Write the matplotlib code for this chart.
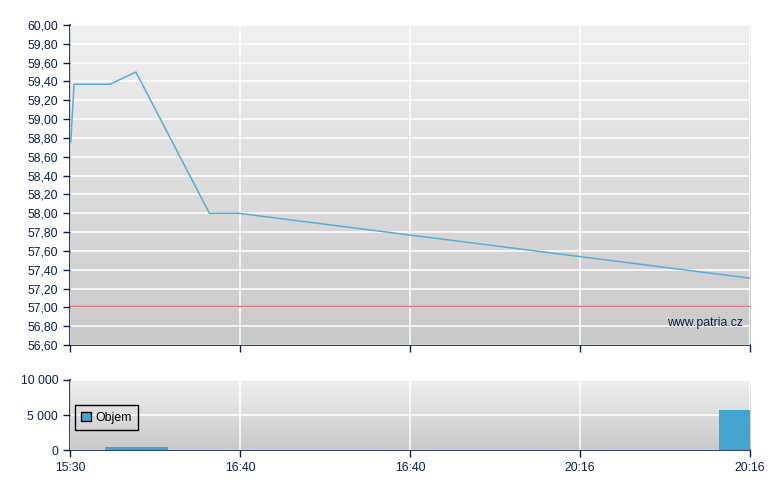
import numpy as np
import matplotlib.pyplot as plt
from matplotlib.colors import LinearSegmentedColormap

plt.rcParams['font.family'] = ['Liberation Sans', 'DejaVu Sans']
plt.rcParams['font.size'] = 8.8

# data
tick_labels = ['15:30', '16:40', '16:40', '20:16', '20:16']
price_x = [0.005, 0.024, 0.235, 0.388, 0.82, 0.99, 4.0]
price_y = [58.76, 59.37, 59.37, 59.50, 58.00, 58.00, 57.31]
prev_close = 57.01
vol_left = [0.206, 3.818]
vol_width = [0.37, 0.182]
vol_vals = [430, 5700]

navy = '#0a2050'
grad = LinearSegmentedColormap.from_list('g', ['#f0f0f0', '#c9c9c9'])

def bg(ax, y0, y1):
    g = np.linspace(0, 1, 256).reshape(-1, 1)
    ax.imshow(g, cmap=grad, extent=[0, 4, y0, y1], aspect='auto', zorder=0,
              origin='upper')

def style(ax):
    for s in ['top', 'right']:
        ax.spines[s].set_visible(False)
    for s in ['left', 'bottom']:
        ax.spines[s].set_color(navy)
        ax.spines[s].set_linewidth(1.2)
    ax.tick_params(colors=navy, labelcolor=navy, length=5, width=1, direction='out')
    ax.set_xlim(0, 4)
    ax.set_xticks(range(5))
    ax.grid(True, color='white', linewidth=1.1, zorder=1)
    ax.set_axisbelow(False)

fig = plt.figure(figsize=(7.8, 4.9), dpi=100)
ax1 = fig.add_axes([0.0897, 0.2959, 0.8718, 0.6531])
ax2 = fig.add_axes([0.0897, 0.0816, 0.8718, 0.1429])

bg(ax1, 56.6, 60.0)
style(ax1)
ax1.set_ylim(56.6, 60.0)
yt = np.arange(56.6, 60.001, 0.2)
ax1.set_yticks(yt)
ax1.set_yticklabels([('%.2f' % v).replace('.', ',') for v in yt])
ax1.set_xticklabels([])
ax1.axhline(prev_close, color='#e87070', linewidth=1, zorder=3)
ax1.plot(price_x, price_y, color='#5aaed6', linewidth=1.1, zorder=4)
ax1.text(0.99, 0.069, 'www.patria.cz', transform=ax1.transAxes, ha='right',
         va='center', color=navy, zorder=5)

bg(ax2, 0, 10000)
style(ax2)
ax2.set_ylim(0, 10000)
ax2.set_yticks([0, 5000, 10000])
ax2.set_yticklabels(['0', '5 000', '10 000'])
ax2.set_xticklabels(tick_labels)
ax2.bar(vol_left, vol_vals, width=vol_width, align='edge', color='#44a6d0',
        zorder=3, label='Objem')
leg = ax2.legend(loc='upper left', bbox_to_anchor=(0.007, 0.643), borderaxespad=0,
                 fancybox=False, facecolor='none', framealpha=1, edgecolor='black',
                 handlelength=0.75, handleheight=0.75,
                 borderpad=0.55, handletextpad=0.35)
leg.get_frame().set_linewidth(1)
for h in leg.legend_handles:
    h.set_edgecolor('black')
    h.set_linewidth(1)

fig.savefig('out.png', dpi=100)
